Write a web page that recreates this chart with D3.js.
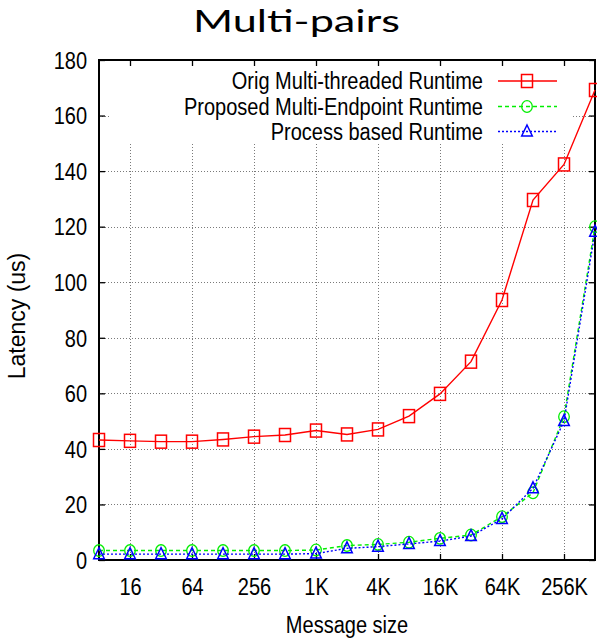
<!DOCTYPE html>
<html>
<head>
<meta charset="utf-8">
<script src="https://cdn.jsdelivr.net/npm/d3@7"></script>
<style>
  html, body { margin: 0; padding: 0; background: #fff; }
  svg { display: block; }
</style>
</head>
<body>
<svg id="chart" width="597" height="638"></svg>
<script>
// ---- data ----
const sizes = [8, 16, 32, 64, 128, 256, 512, 1024, 2048, 4096, 8192, 16384, 32768, 65536, 131072, 262144, 524288];
const origMT = [43.2, 42.9, 42.6, 42.6, 43.4, 44.4, 45.0, 46.6, 45.2, 47.0, 51.8, 59.8, 71.4, 93.6, 129.6, 142.4, 169.2];
const propME = [3.4, 3.4, 3.4, 3.4, 3.4, 3.4, 3.4, 3.6, 5.2, 5.6, 6.4, 7.8, 9.0, 15.6, 24.2, 51.6, 120.0];
const procRT = [2.1, 2.1, 2.1, 2.1, 2.1, 2.1, 2.1, 2.3, 4.2, 4.8, 5.8, 6.8, 8.6, 14.8, 25.8, 50.0, 118.2];
const xTickValues = [16, 64, 256, 1024, 4096, 16384, 65536, 262144];
const xTickLabels = ["16", "64", "256", "1K", "4K", "16K", "64K", "256K"];
const yTickValues = [0, 20, 40, 60, 80, 100, 120, 140, 160, 180];
const seriesNames = ["Orig Multi-threaded Runtime", "Proposed Multi-Endpoint Runtime", "Process based Runtime"];
const titleText = "Multi-pairs";
const xLabel = "Message size";
const yLabel = "Latency (us)";

// ---- layout ----
const L = 99, R = 595, T = 60, B = 560;
const FONT = "'Liberation Sans', Arial, Helvetica, sans-serif";
const FS = 23, SX = 0.87;

const svg = d3.select("#chart");
const x = d3.scaleLog().base(2).domain([8, 524288]).range([L, R]);
const y = d3.scaleLinear().domain([0, 180]).range([B, T]);

// title
svg.append("text")
  .attr("x", 193).attr("y", 32)
  .attr("textLength", 207).attr("lengthAdjust", "spacingAndGlyphs")
  .style("font-family", "Lato, 'Open Sans', sans-serif")
  .style("font-size", "31px")
  .attr("fill", "#000")
  .text(titleText);

// grid
const grid = svg.append("g").attr("stroke", "#7a7a7a").attr("stroke-width", 1).attr("stroke-dasharray", "1,2");
grid.selectAll("line.gy").data(yTickValues.filter(v => v > 0 && v < 180)).join("line")
  .attr("x1", L).attr("x2", R).attr("y1", d => Math.round(y(d)) + 0.5).attr("y2", d => Math.round(y(d)) + 0.5);
grid.selectAll("line.gx").data(xTickValues).join("line")
  .attr("x1", d => Math.round(x(d)) + 0.5).attr("x2", d => Math.round(x(d)) + 0.5).attr("y1", T).attr("y2", B);

// legend background (opaque key)
svg.append("rect").attr("x", 110).attr("y", T + 1).attr("width", 462).attr("height", 82).attr("fill", "#fff");

// axes (ticks drawn inward)
function styleAxis(g) {
  g.select(".domain").remove();
  g.selectAll(".tick line").attr("stroke", "#000").attr("stroke-width", 1.3);
}
const yAxisL = svg.append("g").attr("transform", `translate(${L},0)`)
  .call(d3.axisLeft(y).tickValues(yTickValues).tickSize(-6).tickPadding(12).tickFormat(d3.format("d")));
styleAxis(yAxisL);
yAxisL.selectAll("text")
  .attr("x", -12 / SX).attr("dy", "0.36em")
  .attr("transform", `scale(${SX},1)`)
  .style("font-family", FONT).style("font-size", FS + "px").attr("fill", "#000");

const xAxisB = svg.append("g").attr("transform", `translate(0,${B})`)
  .call(d3.axisBottom(x).tickValues(xTickValues).tickSize(-6).tickPadding(19)
    .tickFormat((d, i) => xTickLabels[i]));
styleAxis(xAxisB);
xAxisB.selectAll("text")
  .attr("x", 0).attr("y", 35).attr("dy", null)
  .attr("transform", `scale(${SX},1)`)
  .style("font-family", FONT).style("font-size", FS + "px").attr("fill", "#000");

const yAxisR = svg.append("g").attr("transform", `translate(${R},0)`)
  .call(d3.axisRight(y).tickValues(yTickValues).tickSize(-6).tickFormat(""));
styleAxis(yAxisR);
const xAxisT = svg.append("g").attr("transform", `translate(0,${T})`)
  .call(d3.axisTop(x).tickValues(xTickValues).tickSize(-6).tickFormat(""));
styleAxis(xAxisT);

// frame
svg.append("rect").attr("x", L).attr("y", T).attr("width", R - L).attr("height", B - T)
  .attr("fill", "none").attr("stroke", "#000").attr("stroke-width", 2);

// axis labels
svg.append("text")
  .attr("transform", `translate(${(L + R) / 2},633) scale(${SX},1)`)
  .attr("text-anchor", "middle")
  .style("font-family", FONT).style("font-size", FS + "px").attr("fill", "#000")
  .text(xLabel);
svg.append("text")
  .attr("transform", `translate(25,316) rotate(-90)`)
  .attr("text-anchor", "middle")
  .style("font-family", FONT).style("font-size", FS + "px").attr("fill", "#000")
  .text(yLabel);

// series
const series = [
  { name: seriesNames[0], vals: origMT, color: "#ff0000", dash: null, marker: "square" },
  { name: seriesNames[1], vals: propME, color: "#00ee00", dash: "4,3", marker: "circle" },
  { name: seriesNames[2], vals: procRT, color: "#0000ff", dash: "2,2", marker: "triangle" }
];

const lineGen = d3.line().x(d => x(d[0])).y(d => y(d[1]));

function drawMarker(g, type, color) {
  if (type === "square") {
    g.append("rect").attr("x", -5.5).attr("y", -6.5).attr("width", 11).attr("height", 13)
      .attr("fill", "none").attr("stroke", color).attr("stroke-width", 1.5);
  } else if (type === "circle") {
    g.append("ellipse").attr("rx", 5.3).attr("ry", 5.8)
      .attr("fill", "none").attr("stroke", color).attr("stroke-width", 1.3);
  } else {
    g.append("path").attr("d", "M0,-6.5 L5.3,4.5 L-5.3,4.5 Z")
      .attr("fill", "none").attr("stroke", color).attr("stroke-width", 1.5);
  }
}

// draw green first, then blue, then red
[series[1], series[2], series[0]].forEach(s => {
  const pts = sizes.map((sz, i) => [sz, s.vals[i]]);
  svg.append("path").datum(pts)
    .attr("d", lineGen)
    .attr("fill", "none").attr("stroke", s.color).attr("stroke-width", 1.4)
    .attr("stroke-dasharray", s.dash);
  pts.forEach(p => {
    const g = svg.append("g").attr("transform", `translate(${x(p[0])},${y(p[1])})`);
    drawMarker(g, s.marker, s.color);
  });
});

// legend
const legRows = [81, 106.5, 131.5];
series.forEach((s, i) => {
  const cy = legRows[i];
  svg.append("text")
    .attr("transform", `translate(483,${cy + 8}) scale(${SX},1)`)
    .attr("text-anchor", "end")
    .style("font-family", FONT).style("font-size", FS + "px").attr("fill", "#000")
    .text(s.name);
  svg.append("line").attr("x1", 498).attr("x2", 557).attr("y1", cy).attr("y2", cy)
    .attr("stroke", s.color).attr("stroke-width", 1.4).attr("stroke-dasharray", s.dash);
  const g = svg.append("g").attr("transform", `translate(527,${cy})`);
  drawMarker(g, s.marker, s.color);
});
</script>
</body>
</html>
